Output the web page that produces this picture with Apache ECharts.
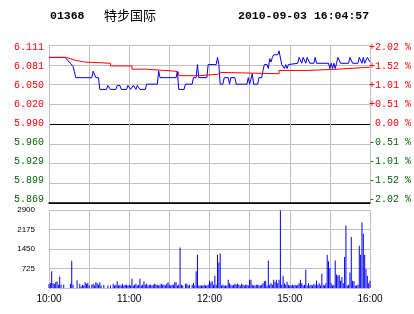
<!DOCTYPE html>
<html><head><meta charset="utf-8">
<script src="https://cdn.jsdelivr.net/npm/echarts@6/dist/echarts.min.js"></script>
<style>html,body{margin:0;padding:0;background:#fff}#c{width:414px;height:314px}</style>
</head><body><div id="c"></div>
<script>
// ---- header text ----
const stockCode = '01368';
const stockName = '特步国际';
const stamp = '2010-09-03 16:04:57';

// ---- axes ----
const priceMin = 5.869, priceMax = 6.111;
const leftLabels = ['5.869','5.899','5.929','5.960','5.990','6.020','6.050','6.081','6.111']; // bottom -> top
const rightLabels = ['-2.02 %','-1.52 %','-1.01 %','-0.51 %',' 0.00 %','+0.51 %','+1.01 %','+1.52 %','+2.02 %'];
const timeTicks = [0, 60, 120, 180, 240];          // trading minutes since 10:00
const timeLabels = ['10:00', '11:00', '12:00', '15:00', '16:00'];
const volMax = 2900, volStep = 725;

// ---- price (blue) : trading minute / price ----
const priceMinutes = [0,12,16,18,19,20,32,33,34,35,37,38,43,44,46,50,51,53,54,58,59,61,62,63,64,65,66,67,68,72,73,81,82,83,95,96,97,101,102,107,108,110,111,112,118,119,125,126,127,128,130,131,134,135,136,139,140,148,149,150,151,152,153,156,157,159,160,161,163,164,165,166,167,168,171,172,173,174,175,176,177,178,179,186,187,188,189,190,191,192,193,194,195,198,199,200,209,210,211,212,213,214,215,216,217,218,224,225,226,227,231,232,233,234,235,236,237,238,239,240];
const priceValues = [6.092,6.092,6.083,6.078,6.070,6.061,6.061,6.071,6.071,6.061,6.061,6.043,6.043,6.049,6.043,6.043,6.049,6.049,6.043,6.043,6.049,6.043,6.043,6.049,6.049,6.043,6.049,6.049,6.043,6.043,6.051,6.051,6.071,6.061,6.061,6.071,6.043,6.043,6.051,6.051,6.061,6.061,6.081,6.061,6.061,6.081,6.081,6.092,6.081,6.051,6.051,6.061,6.061,6.051,6.061,6.061,6.051,6.051,6.061,6.051,6.051,6.067,6.051,6.051,6.061,6.061,6.072,6.081,6.081,6.075,6.090,6.085,6.092,6.096,6.096,6.102,6.102,6.081,6.081,6.075,6.081,6.075,6.081,6.083,6.092,6.092,6.083,6.092,6.092,6.083,6.092,6.092,6.083,6.083,6.092,6.083,6.083,6.075,6.083,6.075,6.083,6.075,6.083,6.092,6.092,6.083,6.083,6.092,6.092,6.083,6.083,6.092,6.092,6.083,6.092,6.083,6.083,6.092,6.092,6.085];

// ---- average price (red) ----
const avgMinutes = [0,13,16,19,26,46,62,72,94,97,112,126,128,172,193,216,240];
const avgValues = [6.092,6.090,6.088,6.085,6.083,6.079,6.074,6.071,6.069,6.064,6.066,6.069,6.067,6.072,6.074,6.077,6.077];

// ---- volume per minute (0..240) ----
const volumes = [
140,190,620,190,150,210,250,120,430,120,
0,120,0,0,0,0,160,1010,120,0,
0,285,0,160,60,120,90,210,160,190,
90,0,120,160,90,210,190,120,210,90,
0,120,0,0,90,0,90,0,160,90,
120,250,90,120,90,160,90,120,120,90,
120,90,347,90,120,160,90,120,347,90,
120,250,120,160,90,120,120,90,120,160,
120,120,90,120,160,120,120,90,160,210,
120,90,120,120,210,210,90,120,1510,120,
90,0,160,160,90,120,0,120,190,90,
620,1240,90,90,90,90,120,90,90,120,
270,200,250,120,460,120,1240,950,1280,90,
120,90,90,90,310,180,120,90,120,160,
120,160,120,90,160,120,90,120,120,90,
310,310,120,90,90,120,120,90,90,120,
180,250,270,90,1020,120,180,120,310,220,
310,180,310,2880,120,460,180,120,230,120,
90,90,120,90,120,90,120,180,310,180,
90,120,680,90,180,90,120,90,160,120,
270,120,180,90,530,120,90,180,1240,990,
740,180,90,120,1020,500,460,480,270,410,
180,1150,2320,90,120,580,1900,270,250,90,
90,120,1575,1240,2440,2020,1240,710,460,180,
270];

const GRAY = '#c0c0c0', RED = '#ff0000', GREEN = '#006600';
const mono = '"Liberation Mono", monospace';
const sans = '"Liberation Sans", Arial, sans-serif';

const chart = echarts.init(document.getElementById('c'), null, {renderer: 'canvas'});
const labelColor = (i) => i < 4 ? GREEN : (i === 4 ? '#000' : RED);

chart.setOption({
  animation: false,
  backgroundColor: '#fff',
  graphic: [
    {type: 'text', x: 50, y: 16, style: {text: stockCode, font: 'bold 11.5px ' + mono, fill: '#000', verticalAlign: 'middle'}},
    {type: 'text', x: 104, y: 15, style: {text: stockName, font: '13px "Noto Sans CJK SC"', fill: '#000', verticalAlign: 'middle'}},
    {type: 'text', x: 238, y: 16.5, style: {text: stamp, font: 'bold 11.5px ' + mono, fill: '#000', verticalAlign: 'middle'}}
  ],
  grid: [
    {left: 49, right: 44, top: 45, height: 158},
    {left: 49, right: 44, top: 210, height: 78},
    {left: 49, right: 44, top: 47.7, height: 152}
  ],
  xAxis: [
    {gridIndex: 0, type: 'value', min: 0, max: 240, interval: 30,
     axisLine: {show: true, onZero: false, lineStyle: {color: '#000', width: 1.5}},
     axisTick: {show: false}, axisLabel: {show: false},
     splitLine: {show: true, lineStyle: {color: GRAY, width: 1}}},
    {gridIndex: 1, type: 'value', min: 0, max: 240, interval: 30,
     axisLine: {show: false}, axisTick: {show: false},
     axisLabel: {show: true, margin: 6, fontSize: 10, fontFamily: sans, color: '#000',
       formatter: (v) => { const i = timeTicks.indexOf(v); return i >= 0 ? timeLabels[i] : ''; }},
     splitLine: {show: true, lineStyle: {color: GRAY, width: 1}}},
    {gridIndex: 2, type: 'value', min: 0, max: 240, show: false}
  ],
  yAxis: [
    {gridIndex: 0, type: 'value', min: priceMin, max: priceMax, show: false},
    {gridIndex: 0, type: 'value', min: 0, max: 8, interval: 1,
     axisLine: {show: false}, axisTick: {show: false}, axisLabel: {show: false},
     splitLine: {show: true, lineStyle: {width: 1,
       color: ['#000', GRAY, GRAY, GRAY, '#000', GRAY, GRAY, GRAY, GRAY]}}},
    {gridIndex: 1, type: 'value', min: 0, max: volMax, interval: volStep,
     axisLine: {show: false}, axisTick: {show: false},
     axisLabel: {show: true, showMinLabel: false, margin: 14, fontSize: 8, fontFamily: sans, color: '#000',
       padding: [6, 0, 0, 0], formatter: (v) => String(v)},
     splitLine: {show: true, lineStyle: {color: GRAY, width: 1}}},
    {gridIndex: 2, type: 'value', min: 0, max: 8, interval: 1, position: 'left',
     axisLine: {show: false}, axisTick: {show: false}, splitLine: {show: false},
     axisLabel: {show: true, margin: 5, fontSize: 10, fontFamily: mono,
       formatter: (v) => leftLabels[v], color: (v) => labelColor(v)}},
    {gridIndex: 2, type: 'value', min: 0, max: 8, interval: 1, position: 'right',
     axisLine: {show: false}, axisTick: {show: false}, splitLine: {show: false},
     axisLabel: {show: true, margin: 1.5, fontSize: 10, fontFamily: mono,
       formatter: (v) => rightLabels[v], color: (v) => labelColor(v)}}
  ],
  series: [
    {type: 'line', xAxisIndex: 0, yAxisIndex: 0, z: 3, showSymbol: false, silent: true,
     data: priceMinutes.map((m, i) => [m, priceValues[i]]),
     lineStyle: {color: '#0000ff', width: 1}},
    {type: 'line', xAxisIndex: 0, yAxisIndex: 0, z: 4, showSymbol: false, silent: true, step: 'end',
     data: avgMinutes.map((m, i) => [m, avgValues[i]]),
     lineStyle: {color: RED, width: 1}},
    {type: 'bar', xAxisIndex: 1, yAxisIndex: 2, barWidth: 1, silent: true,
     data: volumes.map((v, i) => [i, v]),
     itemStyle: {color: '#0000ff'}}
  ]
});
</script></body></html>
